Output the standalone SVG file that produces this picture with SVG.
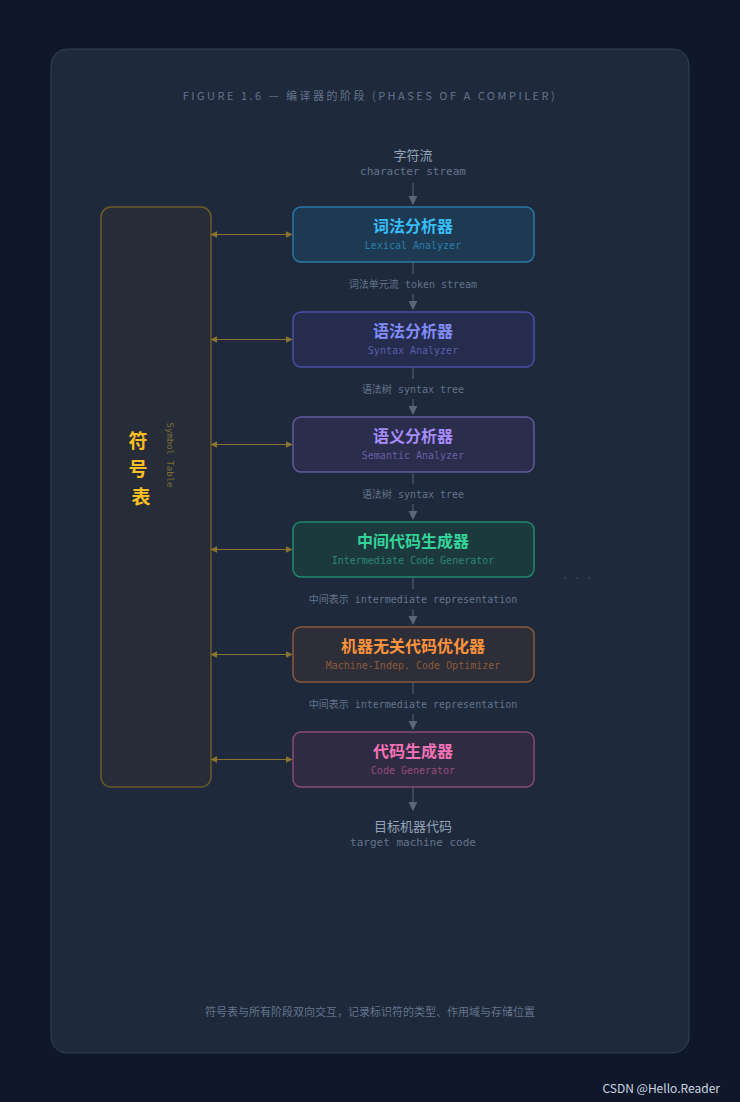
<svg xmlns="http://www.w3.org/2000/svg" width="740" height="1102" viewBox="0 0 740 1102">
<style>
.cjk{font-family:"Noto Sans CJK SC","DejaVu Sans",sans-serif}
.mono{font-family:"DejaVu Sans Mono","Noto Sans CJK SC",monospace}
.title{font-size:16px;font-weight:bold;text-anchor:middle}
.sub{font-size:10px;text-anchor:middle}
.lbl{font-size:10px;fill:#64748b;text-anchor:middle}
.flow{stroke:#4b5a6e;stroke-width:1.3;fill:none}
.bi{stroke:#8a7430;stroke-width:1.2;fill:none}
</style>
<defs>
<marker id="ah" viewBox="0 0 10 10" refX="9" refY="5" markerWidth="7" markerHeight="7" orient="auto"><path d="M0,0 L10,5 L0,10 z" fill="#5b6779"/></marker>
<marker id="ab" viewBox="0 0 10 10" refX="9" refY="5" markerWidth="6" markerHeight="6" orient="auto-start-reverse"><path d="M0,0 L10,5 L0,10 z" fill="#8a7430"/></marker>
</defs>
<rect width="740" height="1102" fill="#0f172a"/>
<rect x="51" y="49" width="638" height="1004" rx="16" fill="#1e293b" stroke="#334155" stroke-width="1"/>
<text x="370" y="100" class="cjk" font-size="11" fill="#64748b" letter-spacing="2.5" text-anchor="middle">FIGURE 1.6 — 编译器的阶段 (PHASES OF A COMPILER)</text>

<g id="input">
<text x="413" y="160" class="cjk" font-size="13" fill="#94a3b8" text-anchor="middle">字符流</text>
<text x="413" y="175" class="mono" font-size="11" fill="#64748b" text-anchor="middle">character stream</text>
</g>

<g id="symtab">
<rect x="101" y="207" width="110" height="580" rx="10" fill="#272d38" stroke="#6b5a2a" stroke-width="1.5"/>
<text x="138" y="448" class="cjk" font-size="19" font-weight="bold" fill="#fbbf24" text-anchor="middle">符</text>
<text x="138" y="476" class="cjk" font-size="19" font-weight="bold" fill="#fbbf24" text-anchor="middle">号</text>
<text x="141" y="504" class="cjk" font-size="19" font-weight="bold" fill="#fbbf24" text-anchor="middle">表</text>
<text x="0" y="0" class="mono" font-size="9" fill="#7a6a35" text-anchor="middle" transform="translate(167 455) rotate(90)">Symbol Table</text>
</g>

<g id="n1">
<rect x="293" y="207" width="241" height="55" rx="8" fill="#1e3a52" stroke="#2a7aa8" stroke-width="1.5"/>
<text x="413" y="232" class="cjk title" fill="#38bdf8">词法分析器</text>
<text x="413" y="249" class="mono sub" fill="#2b7ea8">Lexical Analyzer</text>
</g>
<g id="n2">
<rect x="293" y="312" width="241" height="55" rx="8" fill="#252c4e" stroke="#4a4fa8" stroke-width="1.5"/>
<text x="413" y="337" class="cjk title" fill="#818cf8">语法分析器</text>
<text x="413" y="354" class="mono sub" fill="#5a5fa8">Syntax Analyzer</text>
</g>
<g id="n3">
<rect x="293" y="417" width="241" height="55" rx="8" fill="#2a2d4b" stroke="#655aa0" stroke-width="1.5"/>
<text x="413" y="442" class="cjk title" fill="#a78bfa">语义分析器</text>
<text x="413" y="459" class="mono sub" fill="#6b5fa6">Semantic Analyzer</text>
</g>
<g id="n4">
<rect x="293" y="522" width="241" height="55" rx="8" fill="#1c3a3e" stroke="#1f8a70" stroke-width="1.5"/>
<text x="413" y="547" class="cjk title" fill="#34d399">中间代码生成器</text>
<text x="413" y="564" class="mono sub" fill="#2a8670">Intermediate Code Generator</text>
</g>
<g id="n5">
<rect x="293" y="627" width="241" height="55" rx="8" fill="#2e2e38" stroke="#8a5a3a" stroke-width="1.5"/>
<text x="413" y="652" class="cjk title" fill="#fb923c">机器无关代码优化器</text>
<text x="413" y="669" class="mono sub" fill="#8a5a3c">Machine-Indep. Code Optimizer</text>
</g>
<g id="n6">
<rect x="293" y="732" width="241" height="55" rx="8" fill="#2e2b42" stroke="#8a4a78" stroke-width="1.5"/>
<text x="413" y="757" class="cjk title" fill="#f472b6">代码生成器</text>
<text x="413" y="774" class="mono sub" fill="#9a4a7a">Code Generator</text>
</g>

<g id="output">
<text x="413" y="831" class="cjk" font-size="13" fill="#94a3b8" text-anchor="middle">目标机器代码</text>
<text x="413" y="846" class="mono" font-size="11" fill="#64748b" text-anchor="middle">target machine code</text>
</g>

<g id="connectors">
<line x1="413" y1="183" x2="413" y2="204" class="flow" marker-end="url(#ah)"/>
<line x1="413" y1="262" x2="413" y2="274" class="flow"/>
<line x1="413" y1="294" x2="413" y2="309" class="flow" marker-end="url(#ah)"/>
<line x1="413" y1="367" x2="413" y2="379" class="flow"/>
<line x1="413" y1="399" x2="413" y2="414" class="flow" marker-end="url(#ah)"/>
<line x1="413" y1="472" x2="413" y2="484" class="flow"/>
<line x1="413" y1="504" x2="413" y2="519" class="flow" marker-end="url(#ah)"/>
<line x1="413" y1="577" x2="413" y2="589" class="flow"/>
<line x1="413" y1="609" x2="413" y2="624" class="flow" marker-end="url(#ah)"/>
<line x1="413" y1="682" x2="413" y2="694" class="flow"/>
<line x1="413" y1="714" x2="413" y2="729" class="flow" marker-end="url(#ah)"/>
<line x1="413" y1="787" x2="413" y2="810" class="flow" stroke-width="1.8" marker-end="url(#ah)"/>
<text x="413" y="288" class="mono lbl">词法单元流 token stream</text>
<text x="413" y="393" class="mono lbl">语法树 syntax tree</text>
<text x="413" y="498" class="mono lbl">语法树 syntax tree</text>
<text x="413" y="603" class="mono lbl">中间表示 intermediate representation</text>
<text x="413" y="708" class="mono lbl">中间表示 intermediate representation</text>
<line x1="211" y1="234.5" x2="292" y2="234.5" class="bi" marker-start="url(#ab)" marker-end="url(#ab)"/>
<line x1="211" y1="339.5" x2="292" y2="339.5" class="bi" marker-start="url(#ab)" marker-end="url(#ab)"/>
<line x1="211" y1="444.5" x2="292" y2="444.5" class="bi" marker-start="url(#ab)" marker-end="url(#ab)"/>
<line x1="211" y1="549.5" x2="292" y2="549.5" class="bi" marker-start="url(#ab)" marker-end="url(#ab)"/>
<line x1="211" y1="654.5" x2="292" y2="654.5" class="bi" marker-start="url(#ab)" marker-end="url(#ab)"/>
<line x1="211" y1="759.5" x2="292" y2="759.5" class="bi" marker-start="url(#ab)" marker-end="url(#ab)"/>
</g>

<text x="577" y="582" class="mono" font-size="10" fill="#475569" text-anchor="middle">· · ·</text>
<text x="370" y="1016" class="cjk" font-size="11" fill="#64748b" text-anchor="middle">符号表与所有阶段双向交互，记录标识符的类型、作用域与存储位置</text>
<text x="720" y="1093" font-family="'Noto Sans CJK SC','DejaVu Sans',sans-serif" font-size="12" fill="#cbd5e1" text-anchor="end">CSDN @Hello.Reader</text>
</svg>
